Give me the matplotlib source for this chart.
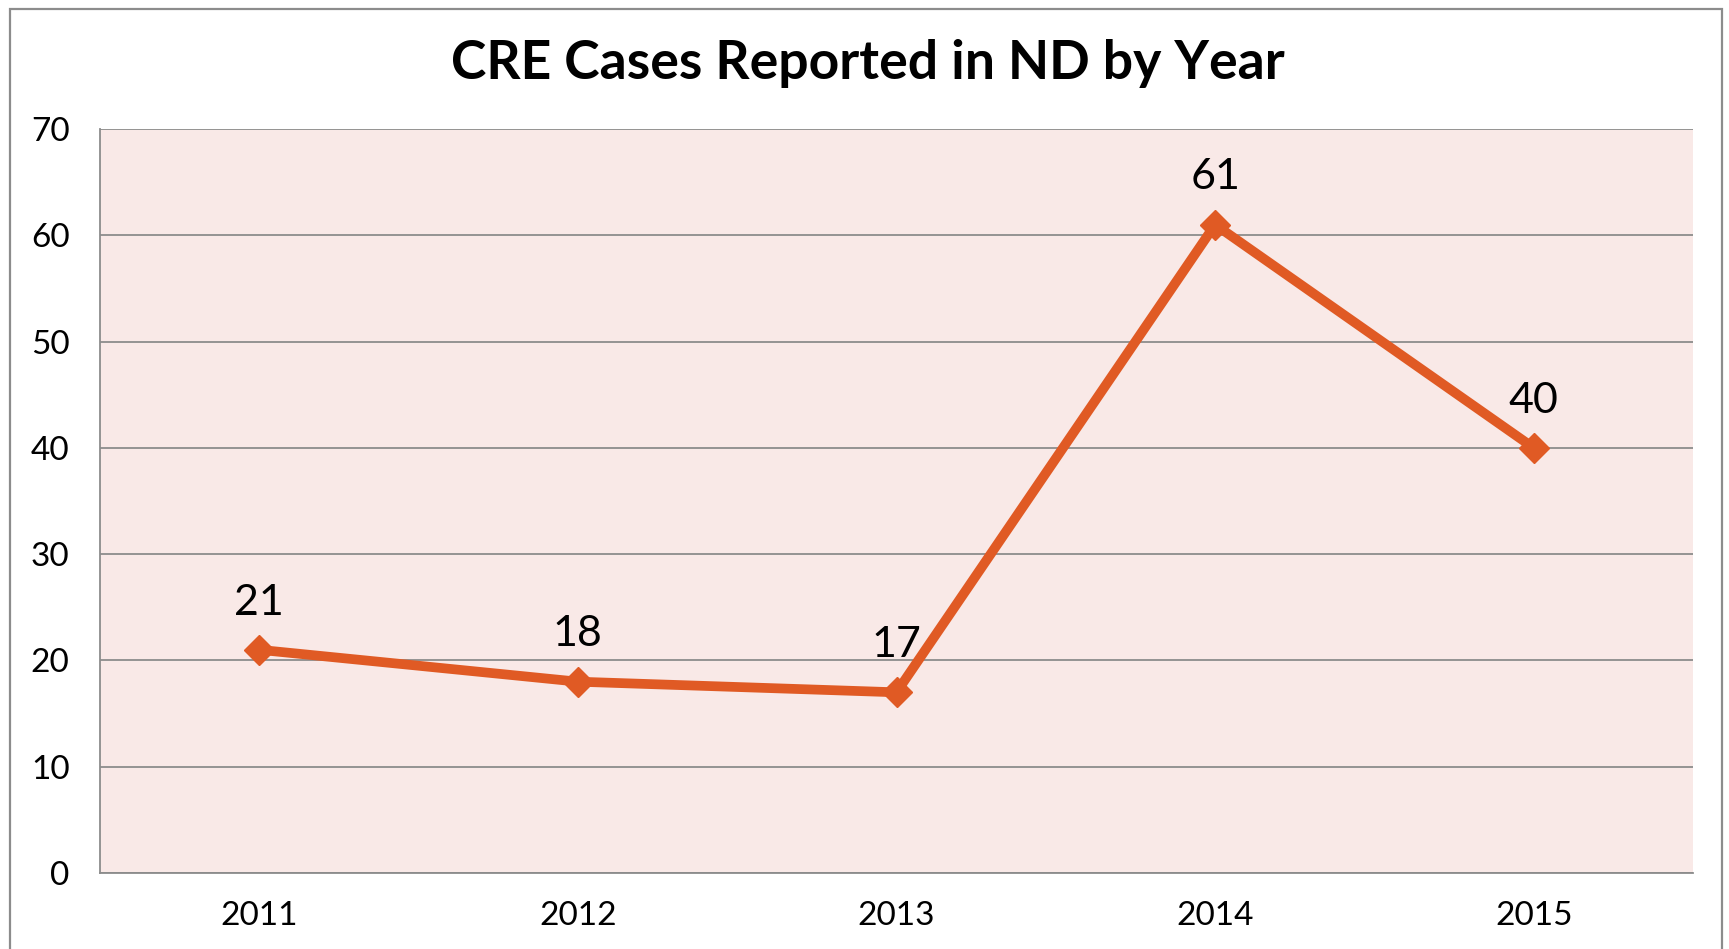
import matplotlib.pyplot as plt
from matplotlib.patches import Rectangle

plt.rcParams['font.family'] = ['Lato', 'DejaVu Sans']

years = ['2011', '2012', '2013', '2014', '2015']
cases = [21, 18, 17, 61, 40]
yticks = [0, 10, 20, 30, 40, 50, 60, 70]

W, H = 1729, 949
fig = plt.figure(figsize=(W / 100, H / 100), dpi=100)
fig.patch.set_facecolor('white')

# outer chart frame
fig.patches.append(Rectangle((10 / W, -0.05), 1712 / W, 1.05 - 9 / H,
                             transform=fig.transFigure, fill=False,
                             edgecolor='#8c8c8c', linewidth=1.6))

ax = fig.add_axes([100 / W, 1 - 873 / H, 1593 / W, 744 / H])
ax.set_facecolor('#f9e9e7')

x = list(range(len(years)))
ax.plot(x, cases, color='#e05a24', linewidth=7, marker='D', markersize=15,
        solid_joinstyle='miter', zorder=3)
for xi, v in zip(x, cases):
    ax.annotate(str(v), (xi, v), xytext=(0, 34), textcoords='offset points',
                ha='center', va='center', fontsize=31, color='black')

ax.set_xlim(-0.5, len(years) - 0.5)
ax.set_ylim(0, 70)
ax.set_yticks(yticks)
ax.set_xticks(x)
ax.set_xticklabels(years)
ax.grid(axis='y', color='#8c8c8c', linewidth=1.3)
ax.set_axisbelow(True)
ax.tick_params(axis='both', length=0, labelsize=24, colors='black')
ax.tick_params(axis='y', pad=22)
ax.tick_params(axis='x', pad=20)
for s in ['right', 'top']:
    ax.spines[s].set_visible(False)
for s in ['left', 'bottom']:
    ax.spines[s].set_color('#8c8c8c')
    ax.spines[s].set_linewidth(1.3)

fig.text(868 / W, 1 - 63 / H, 'CRE Cases Reported in ND by Year',
         ha='center', va='center', fontsize=38.5, fontweight='bold')

fig.savefig('out.png', dpi=100)
